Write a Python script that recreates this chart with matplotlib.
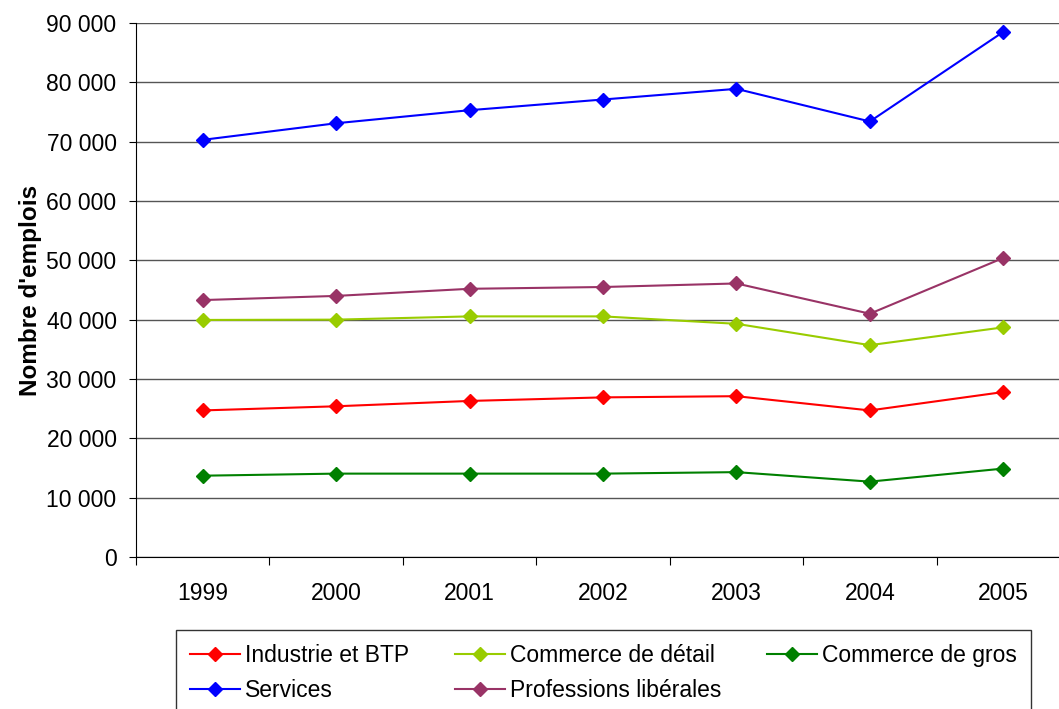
import matplotlib.pyplot as plt
from matplotlib.ticker import FuncFormatter

plt.rcParams['font.family'] = ['Liberation Sans', 'DejaVu Sans']

years = ['1999', '2000', '2001', '2002', '2003', '2004', '2005']
industrie = [24700, 25400, 26300, 26900, 27100, 24700, 27800]
detail = [39950, 40000, 40550, 40550, 39300, 35700, 38700]
gros = [13700, 14050, 14050, 14050, 14300, 12700, 14900]
services = [70300, 73100, 75300, 77100, 78900, 73400, 88500]
professions = [43300, 44000, 45200, 45500, 46100, 41000, 50400]

fig = plt.figure(figsize=(10.59, 7.09), dpi=100)
ax = fig.add_axes([0.1284, 0.2144, 0.882, 0.7532])

x = range(len(years))
style = dict(marker='D', markersize=7.5, linewidth=1.5)
l_ind, = ax.plot(x, industrie, color='#FF0000', label='Industrie et BTP', **style)
l_det, = ax.plot(x, detail, color='#99CC00', label='Commerce de détail', **style)
l_gro, = ax.plot(x, gros, color='#008000', label='Commerce de gros', **style)
l_ser, = ax.plot(x, services, color='#0000FF', label='Services', **style)
l_pro, = ax.plot(x, professions, color='#993366', label='Professions libérales', **style)

ax.set_xlim(-0.5, len(years) - 0.5)
ax.set_ylim(0, 90000)
ax.set_yticks(range(0, 90001, 10000))
ax.yaxis.set_major_formatter(FuncFormatter(lambda v, p: f"{v:,.0f}".replace(',', ' ')))
ax.grid(axis='y', color='#555555', linewidth=1)
ax.set_axisbelow(True)

# category boundaries as major ticks, year labels on minor ticks
ax.set_xticks([i - 0.5 for i in range(len(years) + 1)])
ax.set_xticklabels([])
ax.set_xticks(list(x), minor=True)
ax.set_xticklabels(years, minor=True)
ax.tick_params(axis='x', which='major', length=6, direction='out', color='black')
ax.tick_params(axis='x', which='minor', length=0, pad=18, labelsize=16.5)
ax.tick_params(axis='y', length=5, direction='out', pad=9, labelsize=16.5)

for s in ['top', 'right']:
    ax.spines[s].set_visible(False)
ax.spines['left'].set_color('black')
ax.spines['bottom'].set_color('black')

ax.set_ylabel("Nombre d'emplois", fontsize=17.5, fontweight='bold', labelpad=3)

handles = [l_ind, l_ser, l_det, l_pro, l_gro]
leg = fig.legend(handles=handles, labels=[h.get_label() for h in handles],
                 ncol=3, loc='upper left', bbox_to_anchor=(176 / 1059, 1 - 630 / 709),
                 fontsize=16.5, frameon=True, fancybox=False, edgecolor='black',
                 handlelength=2.2, handletextpad=0.2, columnspacing=2.0,
                 borderpad=0.6, labelspacing=0.55, borderaxespad=0)
leg.get_frame().set_linewidth(1)

fig.savefig('out.png', dpi=100)
